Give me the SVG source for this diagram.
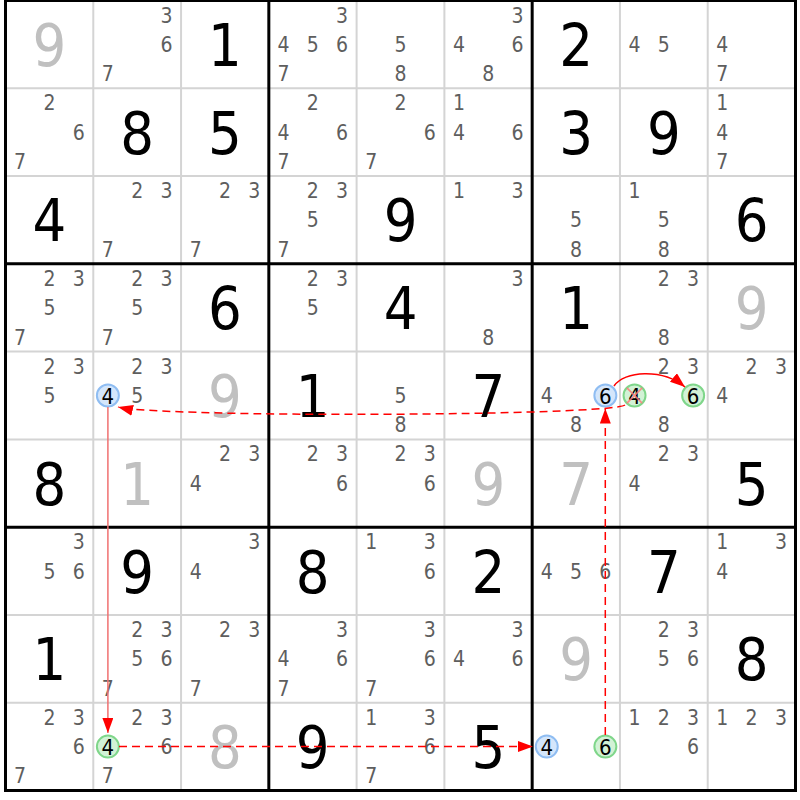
<svg xmlns="http://www.w3.org/2000/svg" width="800" height="800" viewBox="0 0 800 800">
<style>
text{font-family:"DejaVu Sans Condensed","DejaVu Sans",sans-serif;font-stretch:condensed;text-anchor:middle}
.g{font-size:59px;fill:#000}
.s{font-size:59px;fill:#c0c0c0}
.c{font-size:21px;fill:#5e5e5e}
.h{font-size:22px;fill:#000}
.cb{fill:#d4e6fb;stroke:#8fbdf2;stroke-width:2}
.cg{fill:#d2f2d6;stroke:#7fd68a;stroke-width:2}
.thin{stroke:#d4d4d4;stroke-width:2;fill:none}
.thick{stroke:#000;stroke-width:3;fill:none}
.dash{stroke:#f00;stroke-width:1.5;fill:none;stroke-dasharray:8,5}
.sol{stroke:#f00;stroke-width:1.5;fill:none}
.soll{stroke:#f07070;stroke-width:1.5;fill:none}
.x{stroke:#ff7a7a;stroke-width:1.6;opacity:.85}
</style>
<defs>
<marker id="ah" markerUnits="userSpaceOnUse" markerWidth="16" markerHeight="12" refX="15" refY="5.5" orient="auto"><path d="M0,0 L15,5.5 L0,11 z" fill="#f00"/></marker>
</defs>
<rect width="800" height="800" fill="#fff"/>
<g id="grid">
<path class="thin" d="M93.28,0.5V790.5M181.06,0.5V790.5M356.61,0.5V790.5M444.39,0.5V790.5M619.94,0.5V790.5M707.72,0.5V790.5M5.5,88.28H795.5M5.5,176.06H795.5M5.5,351.61H795.5M5.5,439.39H795.5M5.5,614.94H795.5M5.5,702.72H795.5"/>
<path class="thick" d="M268.83,0.5V790.5M532.17,0.5V790.5M5.5,263.83H795.5M5.5,527.17H795.5"/>
<rect class="thick" x="5.5" y="0.5" width="790" height="790"/>
</g>
<g id="cells">
<g id="r0c0" transform="translate(5.5,0.5)"><text class="s" x="43.9" y="65.4">9</text></g>
<g id="r0c1" transform="translate(93.28,0.5)"><text class="c" x="73.2" y="22.1">3</text><text class="c" x="73.2" y="51.4">6</text><text class="c" x="14.6" y="80.7">7</text></g>
<g id="r0c2" transform="translate(181.06,0.5)"><text class="g" x="43.9" y="65.4">1</text></g>
<g id="r0c3" transform="translate(268.83,0.5)"><text class="c" x="73.2" y="22.1">3</text><text class="c" x="14.6" y="51.4">4</text><text class="c" x="43.9" y="51.4">5</text><text class="c" x="73.2" y="51.4">6</text><text class="c" x="14.6" y="80.7">7</text></g>
<g id="r0c4" transform="translate(356.61,0.5)"><text class="c" x="43.9" y="51.4">5</text><text class="c" x="43.9" y="80.7">8</text></g>
<g id="r0c5" transform="translate(444.39,0.5)"><text class="c" x="73.2" y="22.1">3</text><text class="c" x="14.6" y="51.4">4</text><text class="c" x="73.2" y="51.4">6</text><text class="c" x="43.9" y="80.7">8</text></g>
<g id="r0c6" transform="translate(532.17,0.5)"><text class="g" x="43.9" y="65.4">2</text></g>
<g id="r0c7" transform="translate(619.94,0.5)"><text class="c" x="14.6" y="51.4">4</text><text class="c" x="43.9" y="51.4">5</text></g>
<g id="r0c8" transform="translate(707.72,0.5)"><text class="c" x="14.6" y="51.4">4</text><text class="c" x="14.6" y="80.7">7</text></g>

<g id="r1c0" transform="translate(5.5,88.28)"><text class="c" x="43.9" y="22.1">2</text><text class="c" x="73.2" y="51.4">6</text><text class="c" x="14.6" y="80.7">7</text></g>
<g id="r1c1" transform="translate(93.28,88.28)"><text class="g" x="43.9" y="65.4">8</text></g>
<g id="r1c2" transform="translate(181.06,88.28)"><text class="g" x="43.9" y="65.4">5</text></g>
<g id="r1c3" transform="translate(268.83,88.28)"><text class="c" x="43.9" y="22.1">2</text><text class="c" x="14.6" y="51.4">4</text><text class="c" x="73.2" y="51.4">6</text><text class="c" x="14.6" y="80.7">7</text></g>
<g id="r1c4" transform="translate(356.61,88.28)"><text class="c" x="43.9" y="22.1">2</text><text class="c" x="73.2" y="51.4">6</text><text class="c" x="14.6" y="80.7">7</text></g>
<g id="r1c5" transform="translate(444.39,88.28)"><text class="c" x="14.6" y="22.1">1</text><text class="c" x="14.6" y="51.4">4</text><text class="c" x="73.2" y="51.4">6</text></g>
<g id="r1c6" transform="translate(532.17,88.28)"><text class="g" x="43.9" y="65.4">3</text></g>
<g id="r1c7" transform="translate(619.94,88.28)"><text class="g" x="43.9" y="65.4">9</text></g>
<g id="r1c8" transform="translate(707.72,88.28)"><text class="c" x="14.6" y="22.1">1</text><text class="c" x="14.6" y="51.4">4</text><text class="c" x="14.6" y="80.7">7</text></g>

<g id="r2c0" transform="translate(5.5,176.06)"><text class="g" x="43.9" y="65.4">4</text></g>
<g id="r2c1" transform="translate(93.28,176.06)"><text class="c" x="43.9" y="22.1">2</text><text class="c" x="73.2" y="22.1">3</text><text class="c" x="14.6" y="80.7">7</text></g>
<g id="r2c2" transform="translate(181.06,176.06)"><text class="c" x="43.9" y="22.1">2</text><text class="c" x="73.2" y="22.1">3</text><text class="c" x="14.6" y="80.7">7</text></g>
<g id="r2c3" transform="translate(268.83,176.06)"><text class="c" x="43.9" y="22.1">2</text><text class="c" x="73.2" y="22.1">3</text><text class="c" x="43.9" y="51.4">5</text><text class="c" x="14.6" y="80.7">7</text></g>
<g id="r2c4" transform="translate(356.61,176.06)"><text class="g" x="43.9" y="65.4">9</text></g>
<g id="r2c5" transform="translate(444.39,176.06)"><text class="c" x="14.6" y="22.1">1</text><text class="c" x="73.2" y="22.1">3</text></g>
<g id="r2c6" transform="translate(532.17,176.06)"><text class="c" x="43.9" y="51.4">5</text><text class="c" x="43.9" y="80.7">8</text></g>
<g id="r2c7" transform="translate(619.94,176.06)"><text class="c" x="14.6" y="22.1">1</text><text class="c" x="43.9" y="51.4">5</text><text class="c" x="43.9" y="80.7">8</text></g>
<g id="r2c8" transform="translate(707.72,176.06)"><text class="g" x="43.9" y="65.4">6</text></g>

<g id="r3c0" transform="translate(5.5,263.83)"><text class="c" x="43.9" y="22.1">2</text><text class="c" x="73.2" y="22.1">3</text><text class="c" x="43.9" y="51.4">5</text><text class="c" x="14.6" y="80.7">7</text></g>
<g id="r3c1" transform="translate(93.28,263.83)"><text class="c" x="43.9" y="22.1">2</text><text class="c" x="73.2" y="22.1">3</text><text class="c" x="43.9" y="51.4">5</text><text class="c" x="14.6" y="80.7">7</text></g>
<g id="r3c2" transform="translate(181.06,263.83)"><text class="g" x="43.9" y="65.4">6</text></g>
<g id="r3c3" transform="translate(268.83,263.83)"><text class="c" x="43.9" y="22.1">2</text><text class="c" x="73.2" y="22.1">3</text><text class="c" x="43.9" y="51.4">5</text></g>
<g id="r3c4" transform="translate(356.61,263.83)"><text class="g" x="43.9" y="65.4">4</text></g>
<g id="r3c5" transform="translate(444.39,263.83)"><text class="c" x="73.2" y="22.1">3</text><text class="c" x="43.9" y="80.7">8</text></g>
<g id="r3c6" transform="translate(532.17,263.83)"><text class="g" x="43.9" y="65.4">1</text></g>
<g id="r3c7" transform="translate(619.94,263.83)"><text class="c" x="43.9" y="22.1">2</text><text class="c" x="73.2" y="22.1">3</text><text class="c" x="43.9" y="80.7">8</text></g>
<g id="r3c8" transform="translate(707.72,263.83)"><text class="s" x="43.9" y="65.4">9</text></g>

<g id="r4c0" transform="translate(5.5,351.61)"><text class="c" x="43.9" y="22.1">2</text><text class="c" x="73.2" y="22.1">3</text><text class="c" x="43.9" y="51.4">5</text></g>
<g id="r4c1" transform="translate(93.28,351.61)"><text class="c" x="43.9" y="22.1">2</text><text class="c" x="73.2" y="22.1">3</text><circle class="cb" cx="14.6" cy="43.9" r="11"/><text class="h" x="14.6" y="51.9">4</text><text class="c" x="43.9" y="51.4">5</text></g>
<g id="r4c2" transform="translate(181.06,351.61)"><text class="s" x="43.9" y="65.4">9</text></g>
<g id="r4c3" transform="translate(268.83,351.61)"><text class="g" x="43.9" y="65.4">1</text></g>
<g id="r4c4" transform="translate(356.61,351.61)"><text class="c" x="43.9" y="51.4">5</text><text class="c" x="43.9" y="80.7">8</text></g>
<g id="r4c5" transform="translate(444.39,351.61)"><text class="g" x="43.9" y="65.4">7</text></g>
<g id="r4c6" transform="translate(532.17,351.61)"><text class="c" x="14.6" y="51.4">4</text><circle class="cb" cx="73.2" cy="43.9" r="11"/><text class="h" x="73.2" y="51.9">6</text><text class="c" x="43.9" y="80.7">8</text></g>
<g id="r4c7" transform="translate(619.94,351.61)"><text class="c" x="43.9" y="22.1">2</text><text class="c" x="73.2" y="22.1">3</text><circle class="cg" cx="14.6" cy="43.9" r="11"/><text class="h" x="14.6" y="51.9">4</text><circle class="cg" cx="73.2" cy="43.9" r="11"/><text class="h" x="73.2" y="51.9">6</text><text class="c" x="43.9" y="80.7">8</text><path class="x" d="M7,36.3L22.2,51.5M22.2,36.3L7,51.5"/></g>
<g id="r4c8" transform="translate(707.72,351.61)"><text class="c" x="43.9" y="22.1">2</text><text class="c" x="73.2" y="22.1">3</text><text class="c" x="14.6" y="51.4">4</text></g>

<g id="r5c0" transform="translate(5.5,439.39)"><text class="g" x="43.9" y="65.4">8</text></g>
<g id="r5c1" transform="translate(93.28,439.39)"><text class="s" x="43.9" y="65.4">1</text></g>
<g id="r5c2" transform="translate(181.06,439.39)"><text class="c" x="43.9" y="22.1">2</text><text class="c" x="73.2" y="22.1">3</text><text class="c" x="14.6" y="51.4">4</text></g>
<g id="r5c3" transform="translate(268.83,439.39)"><text class="c" x="43.9" y="22.1">2</text><text class="c" x="73.2" y="22.1">3</text><text class="c" x="73.2" y="51.4">6</text></g>
<g id="r5c4" transform="translate(356.61,439.39)"><text class="c" x="43.9" y="22.1">2</text><text class="c" x="73.2" y="22.1">3</text><text class="c" x="73.2" y="51.4">6</text></g>
<g id="r5c5" transform="translate(444.39,439.39)"><text class="s" x="43.9" y="65.4">9</text></g>
<g id="r5c6" transform="translate(532.17,439.39)"><text class="s" x="43.9" y="65.4">7</text></g>
<g id="r5c7" transform="translate(619.94,439.39)"><text class="c" x="43.9" y="22.1">2</text><text class="c" x="73.2" y="22.1">3</text><text class="c" x="14.6" y="51.4">4</text></g>
<g id="r5c8" transform="translate(707.72,439.39)"><text class="g" x="43.9" y="65.4">5</text></g>

<g id="r6c0" transform="translate(5.5,527.17)"><text class="c" x="73.2" y="22.1">3</text><text class="c" x="43.9" y="51.4">5</text><text class="c" x="73.2" y="51.4">6</text></g>
<g id="r6c1" transform="translate(93.28,527.17)"><text class="g" x="43.9" y="65.4">9</text></g>
<g id="r6c2" transform="translate(181.06,527.17)"><text class="c" x="73.2" y="22.1">3</text><text class="c" x="14.6" y="51.4">4</text></g>
<g id="r6c3" transform="translate(268.83,527.17)"><text class="g" x="43.9" y="65.4">8</text></g>
<g id="r6c4" transform="translate(356.61,527.17)"><text class="c" x="14.6" y="22.1">1</text><text class="c" x="73.2" y="22.1">3</text><text class="c" x="73.2" y="51.4">6</text></g>
<g id="r6c5" transform="translate(444.39,527.17)"><text class="g" x="43.9" y="65.4">2</text></g>
<g id="r6c6" transform="translate(532.17,527.17)"><text class="c" x="14.6" y="51.4">4</text><text class="c" x="43.9" y="51.4">5</text><text class="c" x="73.2" y="51.4">6</text></g>
<g id="r6c7" transform="translate(619.94,527.17)"><text class="g" x="43.9" y="65.4">7</text></g>
<g id="r6c8" transform="translate(707.72,527.17)"><text class="c" x="14.6" y="22.1">1</text><text class="c" x="73.2" y="22.1">3</text><text class="c" x="14.6" y="51.4">4</text></g>

<g id="r7c0" transform="translate(5.5,614.94)"><text class="g" x="43.9" y="65.4">1</text></g>
<g id="r7c1" transform="translate(93.28,614.94)"><text class="c" x="43.9" y="22.1">2</text><text class="c" x="73.2" y="22.1">3</text><text class="c" x="43.9" y="51.4">5</text><text class="c" x="73.2" y="51.4">6</text><text class="c" x="14.6" y="80.7">7</text></g>
<g id="r7c2" transform="translate(181.06,614.94)"><text class="c" x="43.9" y="22.1">2</text><text class="c" x="73.2" y="22.1">3</text><text class="c" x="14.6" y="80.7">7</text></g>
<g id="r7c3" transform="translate(268.83,614.94)"><text class="c" x="73.2" y="22.1">3</text><text class="c" x="14.6" y="51.4">4</text><text class="c" x="73.2" y="51.4">6</text><text class="c" x="14.6" y="80.7">7</text></g>
<g id="r7c4" transform="translate(356.61,614.94)"><text class="c" x="73.2" y="22.1">3</text><text class="c" x="73.2" y="51.4">6</text><text class="c" x="14.6" y="80.7">7</text></g>
<g id="r7c5" transform="translate(444.39,614.94)"><text class="c" x="73.2" y="22.1">3</text><text class="c" x="14.6" y="51.4">4</text><text class="c" x="73.2" y="51.4">6</text></g>
<g id="r7c6" transform="translate(532.17,614.94)"><text class="s" x="43.9" y="65.4">9</text></g>
<g id="r7c7" transform="translate(619.94,614.94)"><text class="c" x="43.9" y="22.1">2</text><text class="c" x="73.2" y="22.1">3</text><text class="c" x="43.9" y="51.4">5</text><text class="c" x="73.2" y="51.4">6</text></g>
<g id="r7c8" transform="translate(707.72,614.94)"><text class="g" x="43.9" y="65.4">8</text></g>

<g id="r8c0" transform="translate(5.5,702.72)"><text class="c" x="43.9" y="22.1">2</text><text class="c" x="73.2" y="22.1">3</text><text class="c" x="73.2" y="51.4">6</text><text class="c" x="14.6" y="80.7">7</text></g>
<g id="r8c1" transform="translate(93.28,702.72)"><text class="c" x="43.9" y="22.1">2</text><text class="c" x="73.2" y="22.1">3</text><circle class="cg" cx="14.6" cy="43.9" r="11"/><text class="h" x="14.6" y="51.9">4</text><text class="c" x="73.2" y="51.4">6</text><text class="c" x="14.6" y="80.7">7</text></g>
<g id="r8c2" transform="translate(181.06,702.72)"><text class="s" x="43.9" y="65.4">8</text></g>
<g id="r8c3" transform="translate(268.83,702.72)"><text class="g" x="43.9" y="65.4">9</text></g>
<g id="r8c4" transform="translate(356.61,702.72)"><text class="c" x="14.6" y="22.1">1</text><text class="c" x="73.2" y="22.1">3</text><text class="c" x="73.2" y="51.4">6</text><text class="c" x="14.6" y="80.7">7</text></g>
<g id="r8c5" transform="translate(444.39,702.72)"><text class="g" x="43.9" y="65.4">5</text></g>
<g id="r8c6" transform="translate(532.17,702.72)"><circle class="cb" cx="14.6" cy="43.9" r="11"/><text class="h" x="14.6" y="51.9">4</text><circle class="cg" cx="73.2" cy="43.9" r="11"/><text class="h" x="73.2" y="51.9">6</text></g>
<g id="r8c7" transform="translate(619.94,702.72)"><text class="c" x="14.6" y="22.1">1</text><text class="c" x="43.9" y="22.1">2</text><text class="c" x="73.2" y="22.1">3</text><text class="c" x="73.2" y="51.4">6</text></g>
<g id="r8c8" transform="translate(707.72,702.72)"><text class="c" x="14.6" y="22.1">1</text><text class="c" x="43.9" y="22.1">2</text><text class="c" x="73.2" y="22.1">3</text></g>
</g>
<g id="connectors">
<path class="dash" d="M625,405 C610,416 165,418 118,407" marker-end="url(#ah)"/>
<path class="soll" d="M107.9,407V733" marker-end="url(#ah)"/>
<path class="dash" d="M119,746.6H533" marker-end="url(#ah)"/>
<path class="dash" d="M605.3,735V408.5" marker-end="url(#ah)"/>
<path class="sol" d="M614,386 C624,371 662,368 685,387" marker-end="url(#ah)"/>
</g>
</svg>
